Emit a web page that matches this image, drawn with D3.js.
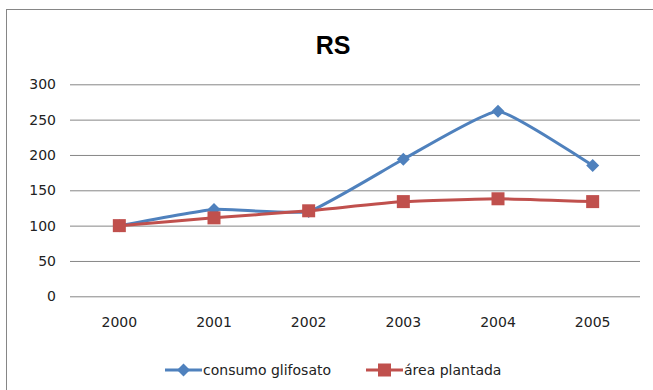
<!DOCTYPE html>
<html>
<head>
<meta charset="utf-8">
<script src="https://cdn.jsdelivr.net/npm/d3@7"></script>
<style>
  html, body { margin: 0; padding: 0; background: #fff; }
  svg { display: block; }
</style>
</head>
<body>
<svg id="chart" width="653" height="390"></svg>
<script>
// Index series for Rio Grande do Sul (base 2000 = 100)
const years = ["2000", "2001", "2002", "2003", "2004", "2005"];
const consumoGlifosato = [100, 123, 120, 194, 262, 185];
const areaPlantada = [100, 111, 121, 134, 138, 134];
const yTicks = [0, 50, 100, 150, 200, 250, 300];

const series = [
  { name: "consumo glifosato", values: consumoGlifosato, color: "#4F81BD", marker: "diamond" },
  { name: "área plantada", values: areaPlantada, color: "#C0504D", marker: "square" }
];

const font = "'DejaVu Sans', sans-serif";
const titleFont = "'Liberation Sans', Arial, sans-serif";
const svg = d3.select("#chart");

// chart frame
svg.append("rect")
  .attr("x", 6.5).attr("y", 9.5)
  .attr("width", 660).attr("height", 400)
  .attr("fill", "#fff").attr("stroke", "#868686").attr("stroke-width", 1);

const plot = { left: 72, right: 640, top: 84.3, bottom: 296.3 };

const x = d3.scaleBand().domain(years).range([plot.left, plot.right]);
const y = d3.scaleLinear().domain([0, 300]).range([plot.bottom, plot.top]);

// title
svg.append("text")
  .attr("x", 333).attr("y", 54)
  .attr("text-anchor", "middle")
  .attr("font-family", titleFont).attr("font-weight", "bold").attr("font-size", 25)
  .attr("fill", "#000")
  .text("RS");

// horizontal gridlines and y labels
const yAxis = d3.axisLeft(y).tickValues(yTicks).tickSize(-(plot.right - plot.left)).tickPadding(16);
const gy = svg.append("g").attr("transform", `translate(${plot.left},0)`).call(yAxis);
gy.select(".domain").remove();
gy.selectAll(".tick line").attr("stroke", "#868686").attr("stroke-width", 1).attr("x1", -2);
gy.selectAll(".tick text")
  .attr("font-family", font).attr("font-size", 14).attr("fill", "#222");

// x labels
const xAxis = d3.axisBottom(x).tickSize(0).tickPadding(21);
const gx = svg.append("g").attr("transform", `translate(0,${plot.bottom})`).call(xAxis);
gx.select(".domain").remove();
gx.selectAll(".tick text")
  .attr("font-family", font).attr("font-size", 14).attr("fill", "#222");

const cx = d => x(d) + x.bandwidth() / 2;

const line = d3.line()
  .x((d, i) => cx(years[i]))
  .y(d => y(d))
  .curve(d3.curveCardinal.tension(0.6));

function drawMarker(g, type, px, py, color) {
  if (type === "diamond") {
    const s = 6.5;
    g.append("path")
      .attr("d", `M${px},${py - s}L${px + s},${py}L${px},${py + s}L${px - s},${py}Z`)
      .attr("fill", color);
  } else {
    const s = 6.5;
    g.append("rect")
      .attr("x", px - s).attr("y", py - s)
      .attr("width", 2 * s).attr("height", 2 * s)
      .attr("fill", color);
  }
}

// glyphosate line first, planted-area line and its markers on top
series.forEach(s => {
  svg.append("path")
    .datum(s.values)
    .attr("d", line)
    .attr("fill", "none")
    .attr("stroke", s.color)
    .attr("stroke-width", 3)
    .attr("stroke-linejoin", "round");
  const gm = svg.append("g");
  s.values.forEach((v, i) => drawMarker(gm, s.marker, cx(years[i]), y(v), s.color));
});

// legend
const legendItems = [
  { s: series[0], x0: 165 },
  { s: series[1], x0: 366 }
];
legendItems.forEach(({ s, x0 }) => {
  const ly = 370;
  const g = svg.append("g");
  g.append("line")
    .attr("x1", x0).attr("x2", x0 + 37)
    .attr("y1", ly).attr("y2", ly)
    .attr("stroke", s.color).attr("stroke-width", 3);
  drawMarker(g, s.marker, x0 + 18.5, ly, s.color);
  g.append("text")
    .attr("x", x0 + 38).attr("y", ly + 5)
    .attr("font-family", font).attr("font-size", 14).attr("fill", "#222")
    .text(s.name);
});
</script>
</body>
</html>
